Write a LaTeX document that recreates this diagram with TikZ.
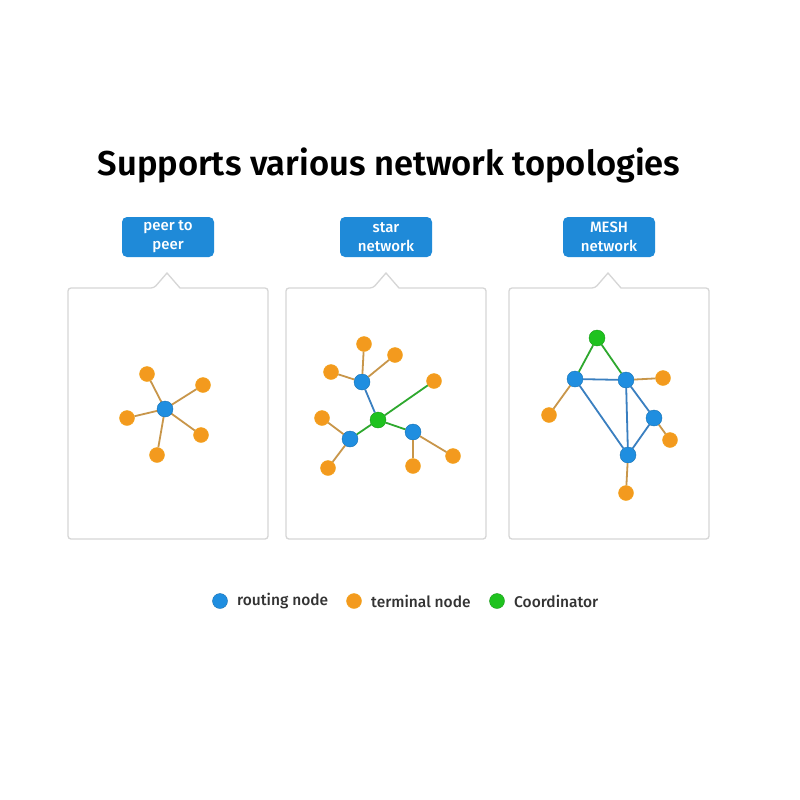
\documentclass[tikz,border=0pt]{standalone}
\usepackage{fontspec}
\setmainfont{Fira Sans}
\newfontfamily\titlefont{Fira Sans SemiBold}
\newfontfamily\tagfont{Fira Sans Medium}
\usetikzlibrary{positioning}

\definecolor{routeblue}{HTML}{1F8EE0}
\definecolor{termorange}{HTML}{F39A1E}
\definecolor{coordgreen}{HTML}{1FC21F}
\definecolor{tagblue}{HTML}{1F8AD8}
\definecolor{edgeorange}{HTML}{C8964A}
\definecolor{edgeblue}{HTML}{3A7FC0}
\definecolor{edgegreen}{HTML}{2EA82E}
\definecolor{panelgray}{HTML}{D6D6D6}

\tikzset{
  routing/.style={circle, fill=routeblue, draw=routeblue!80!black, line width=0.4pt, minimum size=16pt, inner sep=0pt},
  terminal/.style={circle, fill=termorange, draw=termorange!90!yellow, line width=0.4pt, minimum size=15pt, inner sep=0pt},
  coordinator/.style={circle, fill=coordgreen, draw=coordgreen!80!black, line width=0.4pt, minimum size=16pt, inner sep=0pt},
  tedge/.style={edgeorange, line width=1.8pt},
  redge/.style={edgeblue, line width=1.8pt},
  cedge/.style={edgegreen, line width=1.8pt},
  tag/.style={fill=tagblue, rounded corners=5pt, text=white, align=center, font=\tagfont\fontsize{15}{19}\selectfont, minimum width=92pt, minimum height=40pt, inner sep=1pt},
  legendtext/.style={font=\tagfont\fontsize{15.5}{17}\selectfont, text=black!80, anchor=west}
}

\newcommand{\panelbox}[2]{% left x, notch x
  \draw[panelgray, line width=1.3pt, fill=white, rounded corners=3pt]
    (#1,288) -- (#2-13,288) [sharp corners] -- (#2,273) -- (#2+13,288) [rounded corners=3pt]
    -- (#1+200,288) -- (#1+200,539) -- (#1,539) -- cycle;
}

\begin{document}
\begin{tikzpicture}[x=1pt, y=-1pt]
\useasboundingbox (0,0) rectangle (800,800);
\fill[white] (0,0) rectangle (800,800);

% title
\node[font=\titlefont\fontsize{34.5}{38}\selectfont, anchor=base] (title) at (389,175) {Supports various network topologies};

% panels
\panelbox{68}{167}
\panelbox{286}{386}
\panelbox{509}{608}
\node[tag] (tagp2p) at (168,237) {peer to\\peer};
\node[tag] (tagstar) at (386,237) {star\\network};
\node[tag] (tagmesh) at (609,237) {MESH\\network};

% peer to peer
\node[terminal] (p1) at (147,374) {};
\node[terminal] (p2) at (203,385) {};
\node[terminal] (p3) at (127,418) {};
\node[terminal] (p4) at (201,435) {};
\node[terminal] (p5) at (157,455) {};
\foreach \t in {p1,p2,p3,p4,p5}
  \draw[tedge] (\t) -- (165,409);
\node[routing] (pc) at (165,409) {};

% star network
\node[coordinator] (sc) at (378,420) {};
\node[routing] (sa) at (362,382) {};
\node[routing] (sb) at (350,439) {};
\node[routing] (sd) at (413,432) {};
\node[terminal] (s1) at (364,344) {};
\node[terminal] (s2) at (395,355) {};
\node[terminal] (s3) at (331,372) {};
\node[terminal] (s4) at (434,381) {};
\node[terminal] (s5) at (322,418) {};
\node[terminal] (s6) at (328,468) {};
\node[terminal] (s7) at (413,466) {};
\node[terminal] (s8) at (453,456) {};
\draw[tedge] (sa) -- (s1);
\draw[tedge] (sa) -- (s2);
\draw[tedge] (sa) -- (s3);
\draw[tedge] (sb) -- (s5);
\draw[tedge] (sb) -- (s6);
\draw[tedge] (sd) -- (s7);
\draw[tedge] (sd) -- (s8);
\draw[redge] (sa) -- (sc);
\draw[cedge] (sc) -- (s4);
\draw[cedge] (sc) -- (sb);
\draw[cedge] (sc) -- (sd);

% mesh network
\node[coordinator] (mc) at (597,338) {};
\node[routing] (ma) at (575,379) {};
\node[routing] (mb) at (626,380) {};
\node[routing] (md) at (654,418) {};
\node[routing] (me) at (628,455) {};
\node[terminal] (m1) at (663,378) {};
\node[terminal] (m2) at (549,415) {};
\node[terminal] (m3) at (670,440) {};
\node[terminal] (m4) at (626,493) {};
\draw[cedge] (mc) -- (ma);
\draw[cedge] (mc) -- (mb);
\draw[redge] (ma) -- (mb);
\draw[redge] (ma) -- (me);
\draw[redge] (mb) -- (me);
\draw[redge] (mb) -- (md);
\draw[redge] (md) -- (me);
\draw[tedge] (mb) -- (m1);
\draw[tedge] (ma) -- (m2);
\draw[tedge] (md) -- (m3);
\draw[tedge] (me) -- (m4);

% legend
\node[routing, minimum size=15pt] (lr) at (220,601) {};
\node[legendtext, right=6pt of lr] (lrt) {routing node};
\node[terminal] (lt) at (354,601) {};
\node[legendtext, right=6pt of lt] (ltt) {terminal node};
\node[coordinator, minimum size=15pt] (lc) at (497,601) {};
\node[legendtext, right=6pt of lc] (lct) {Coordinator};
\end{tikzpicture}
\end{document}
